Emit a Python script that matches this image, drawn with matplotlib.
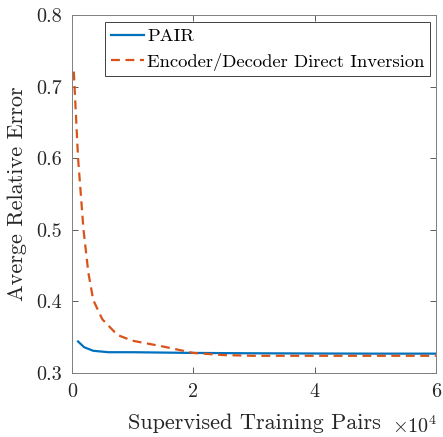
import matplotlib.pyplot as plt
from matplotlib.ticker import FuncFormatter

plt.rcParams["font.family"] = "serif"
plt.rcParams["font.serif"] = ["cmr10"]
plt.rcParams["mathtext.fontset"] = "cm"
plt.rcParams["axes.formatter.use_mathtext"] = True

# Supervised training pairs
pair_x = [1000, 2000, 3500, 6000, 10000, 20000, 30000, 40000, 50000, 60000]
pair_err = [0.344, 0.336, 0.331, 0.329, 0.329, 0.328, 0.3275, 0.3272, 0.327, 0.327]

direct_x = [300, 1000, 1900, 2700, 3500, 5000, 7500, 10000, 15000, 20000,
            25000, 30000, 40000, 50000, 60000]
direct_err = [0.721, 0.600, 0.500, 0.440, 0.402, 0.375, 0.353, 0.345, 0.337,
              0.328, 0.325, 0.324, 0.324, 0.324, 0.324]

x_ticks = [0, 20000, 40000, 60000]
y_ticks = [0.3, 0.4, 0.5, 0.6, 0.7, 0.8]

fig = plt.figure(figsize=(4.43, 4.37), dpi=100)
ax = fig.add_axes([0.1625, 0.1465, 0.8215, 0.8192])

ax.plot(pair_x, pair_err, color="#0072BD", lw=1.6, label="PAIR")
ax.plot(direct_x, direct_err, color="#D95319", lw=1.6, ls=(0, (4, 2.5)),
        label="Encoder/Decoder Direct Inversion")

ax.set_xlim(0, 60000)
ax.set_ylim(0.3, 0.8)
ax.set_xticks(x_ticks)
ax.set_yticks(y_ticks)
ax.xaxis.set_major_formatter(FuncFormatter(lambda v, p: f"{v / 1e4:g}"))
ax.yaxis.set_major_formatter(FuncFormatter(lambda v, p: f"{v:.1f}"))
ax.tick_params(direction="in", top=True, right=True, length=4, width=0.6,
               colors="#404040", labelsize=14.5, labelcolor="#262626", pad=7)
for s in ax.spines.values():
    s.set_color("#808080")
    s.set_linewidth(0.7)

ax.set_xlabel("Supervised Training Pairs", fontsize=16, color="#262626",
              labelpad=9)
ax.set_ylabel("Averge Relative Error", fontsize=16, color="#262626",
              labelpad=7)
ax.text(1.005, -0.148, r"$\times 10^4$", transform=ax.transAxes, ha="right",
        va="center", fontsize=14.5, color="#262626")

leg = ax.legend(loc="upper right", bbox_to_anchor=(0.985, 0.98), fontsize=13.4,
                handlelength=1.8, handletextpad=0.15, borderpad=0.32,
                labelspacing=0.45, fancybox=False, framealpha=1,
                borderaxespad=0)
leg.get_frame().set_edgecolor("#404040")
leg.get_frame().set_linewidth(0.7)

fig.savefig("out.png", dpi=100)
